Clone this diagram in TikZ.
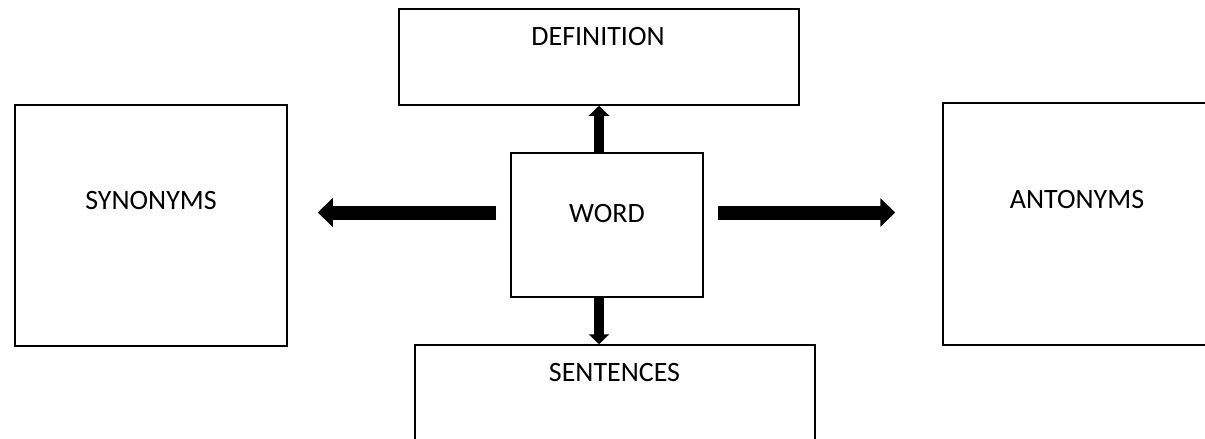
\documentclass[tikz,border=0pt]{standalone}
\usepackage{fontspec}
\setmainfont{Carlito}
\usetikzlibrary{arrows.meta}
\begin{document}
\begin{tikzpicture}[x=1pt,y=-1pt,
  box/.style={draw, line width=1.5pt, inner sep=0pt, rectangle},
  lbl/.style={font=\fontsize{28}{33}\selectfont, inner sep=0pt},
  fathor/.style={line width=14pt, -{Triangle[width=28pt,length=15pt]}},
  fatver/.style={line width=9.5pt, -{Triangle[width=20pt,length=10pt]}}]
\useasboundingbox (0,0) rectangle (1205,439);
\clip (0,0) rectangle (1205,439);
\fill[white] (0,0) rectangle (1205,439);
\node[box, minimum width=272pt, minimum height=241pt] (syn) at (151,225.5) {};
\node[box, minimum width=272pt, minimum height=242pt] (ant) at (1079,224) {};
\node[box, minimum width=400pt, minimum height=96pt] (def) at (599,57) {};
\node[box, minimum width=192pt, minimum height=144pt] (word) at (607,225) {};
\node[box, minimum width=400pt, minimum height=96pt] (sen) at (615,393) {};
\node[lbl] (synt) at ([yshift=25pt]syn.center) {SYNONYMS};
\node[lbl] (antt) at ([xshift=-2pt,yshift=24pt]ant.center) {ANTONYMS};
\node[lbl] (deft) at ([xshift=-1pt,yshift=20.3pt]def.center) {DEFINITION};
\node[lbl] (wordt) at ([yshift=11pt]word.center) {WORD};
\node[lbl] (sent) at ([xshift=-0.5pt,yshift=20pt]sen.center) {SENTENCES};
\draw[fathor, shorten <=14pt, shorten >=30pt] ([yshift=12.5pt]word.west) -- ([yshift=12.5pt]word.west -| syn.east);
\draw[fathor, shorten <=14pt, shorten >=47pt] ([yshift=12.5pt]word.east) -- ([yshift=12.5pt]word.east -| ant.west);
\draw[fatver] (word.north -| def.south) -- (def.south);
\draw[fatver] (word.south -| def.south) -- (sen.north -| def.south);
\end{tikzpicture}
\end{document}
